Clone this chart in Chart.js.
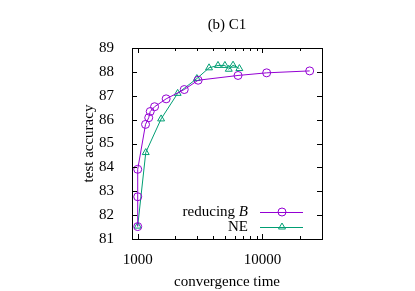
<!DOCTYPE html>
<html>
<head>
<meta charset="utf-8">
<script src="https://cdn.jsdelivr.net/npm/chart.js@4"></script>
<style>
  html, body { margin: 0; padding: 0; background: #fff; }
  #wrap { width: 415px; height: 291px; }
</style>
</head>
<body>
<div id="wrap"><canvas id="c1Chart"></canvas></div>
<script>
// values
let reducingX = [1000, 1000, 1000, 1155, 1225, 1260, 1365, 1690, 2360, 3050, 6370, 10800, 23900];
let reducingY = [81.52, 82.77, 83.92, 85.8, 86.08, 86.34, 86.54, 86.87, 87.26, 87.65, 87.85, 87.96, 88.04];
let neX = [1000, 1160, 1540, 2090, 2980, 3730, 4400, 5000, 5370, 5810, 6530];
let neY = [81.54, 84.62, 86.03, 87.1, 87.72, 88.17, 88.27, 88.27, 88.11, 88.28, 88.14];
let xMajor = [1000, 10000];
let xMinor = [2000, 3000, 4000, 5000, 6000, 7000, 8000, 9000, 20000];
let yTicks = [81, 82, 83, 84, 85, 86, 87, 88, 89];

const serif = 'Liberation Serif';
const purple = '#9400d3';
const green = '#009e73';

// gnuplot style frame, inner ticks and key
const framePlugin = {
  id: 'frame',
  afterDraw(chart) {
    const {ctx, chartArea: a, scales: {x, y}} = chart;
    ctx.save();
    ctx.strokeStyle = '#000';
    ctx.lineWidth = 1;
    ctx.beginPath();
    yTicks.forEach(v => {
      if (v === 81 || v === 89) return;
      const py = Math.round(y.getPixelForValue(v)) + 0.5;
      ctx.moveTo(a.left, py); ctx.lineTo(a.left + 5, py);
      ctx.moveTo(a.right, py); ctx.lineTo(a.right - 5, py);
    });
    xMajor.forEach(v => {
      const px = Math.round(x.getPixelForValue(v)) + 0.5;
      ctx.moveTo(px, a.bottom); ctx.lineTo(px, a.bottom - 5);
      ctx.moveTo(px, a.top); ctx.lineTo(px, a.top + 5);
    });
    xMinor.forEach(v => {
      const px = Math.round(x.getPixelForValue(v)) + 0.5;
      ctx.moveTo(px, a.bottom); ctx.lineTo(px, a.bottom - 3);
      ctx.moveTo(px, a.top); ctx.lineTo(px, a.top + 3);
    });
    ctx.stroke();
    ctx.strokeRect(Math.round(a.left) + 0.5, Math.round(a.top) + 0.5,
      Math.round(a.right - a.left), Math.round(a.bottom - a.top));

    // key
    const keys = [
      {text: 'reducing ', ital: 'B', color: purple, style: 'circle'},
      {text: 'NE', ital: '', color: green, style: 'triangle'}
    ];
    const tx = 248, lx0 = 260, lx1 = 303, mx = 282;
    keys.forEach((k, i) => {
      const ky = 212 + i * 15;
      ctx.fillStyle = '#000';
      ctx.textBaseline = 'middle';
      ctx.textAlign = 'right';
      let end = tx;
      if (k.ital) {
        ctx.font = 'italic 15px ' + serif;
        ctx.fillText(k.ital, end, ky);
        end -= ctx.measureText(k.ital).width;
      }
      ctx.font = '15px ' + serif;
      ctx.fillText(k.text, end, ky);
      ctx.strokeStyle = k.color;
      ctx.beginPath();
      ctx.moveTo(lx0, ky + 0.5); ctx.lineTo(lx1, ky + 0.5);
      ctx.stroke();
      ctx.fillStyle = 'rgba(0,0,0,0)';
      Chart.helpers.drawPoint(ctx, {pointStyle: k.style, radius: 4, borderWidth: 1, rotation: 0}, mx, ky);
    });
    ctx.restore();
  }
};

let ctx = document.getElementById('c1Chart');

new Chart(ctx, {
  type: 'line',
  data: {
    datasets: [{
      label: 'reducing B',
      data: reducingX.map((v, i) => ({x: v, y: reducingY[i]})),
      borderColor: purple, backgroundColor: 'rgba(0,0,0,0)',
      pointStyle: 'circle', pointRadius: 4, pointBorderWidth: 1,
      borderWidth: 1, tension: 0
    }, {
      label: 'NE',
      data: neX.map((v, i) => ({x: v, y: neY[i]})),
      borderColor: green, backgroundColor: 'rgba(0,0,0,0)',
      pointStyle: 'triangle', pointRadius: 4, pointBorderWidth: 1,
      borderWidth: 1, tension: 0
    }]
  },
  options: {
    responsive: true,
    maintainAspectRatio: false,
    animation: false,
    layout: {padding: {left: 0, right: 93, top: 0, bottom: 0}},
    plugins: {
      legend: {display: false},
      tooltip: {enabled: false},
      title: {
        display: true, text: '(b) C1', fullSize: false, color: '#000',
        font: {family: serif, size: 15, weight: 'normal'},
        padding: {top: 16, bottom: 14}
      }
    },
    scales: {
      x: {
        type: 'logarithmic', min: 900, max: 30000,
        grid: {display: false},
        border: {display: false},
        afterBuildTicks: s => { s.ticks = xMajor.map(v => ({value: v})); },
        afterFit: s => { s.height = 52; },
        ticks: {
          color: '#000', padding: 4, maxRotation: 0, autoSkip: false,
          font: {family: serif, size: 15},
          callback: v => String(v)
        },
        title: {
          display: true, text: 'convergence time', color: '#000',
          font: {family: serif, size: 15}, padding: {top: 4, bottom: 0}
        }
      },
      y: {
        min: 81, max: 89,
        grid: {display: false},
        border: {display: false},
        afterBuildTicks: s => { s.ticks = yTicks.map(v => ({value: v})); },
        afterFit: s => { s.width = 132; },
        ticks: {
          color: '#000', padding: 10,
          font: {family: serif, size: 15}
        },
        title: {
          display: true, text: 'test accuracy', color: '#000',
          font: {family: serif, size: 15}, padding: {top: 80, bottom: 0}
        }
      }
    }
  },
  plugins: [framePlugin]
});
</script>
</body>
</html>
